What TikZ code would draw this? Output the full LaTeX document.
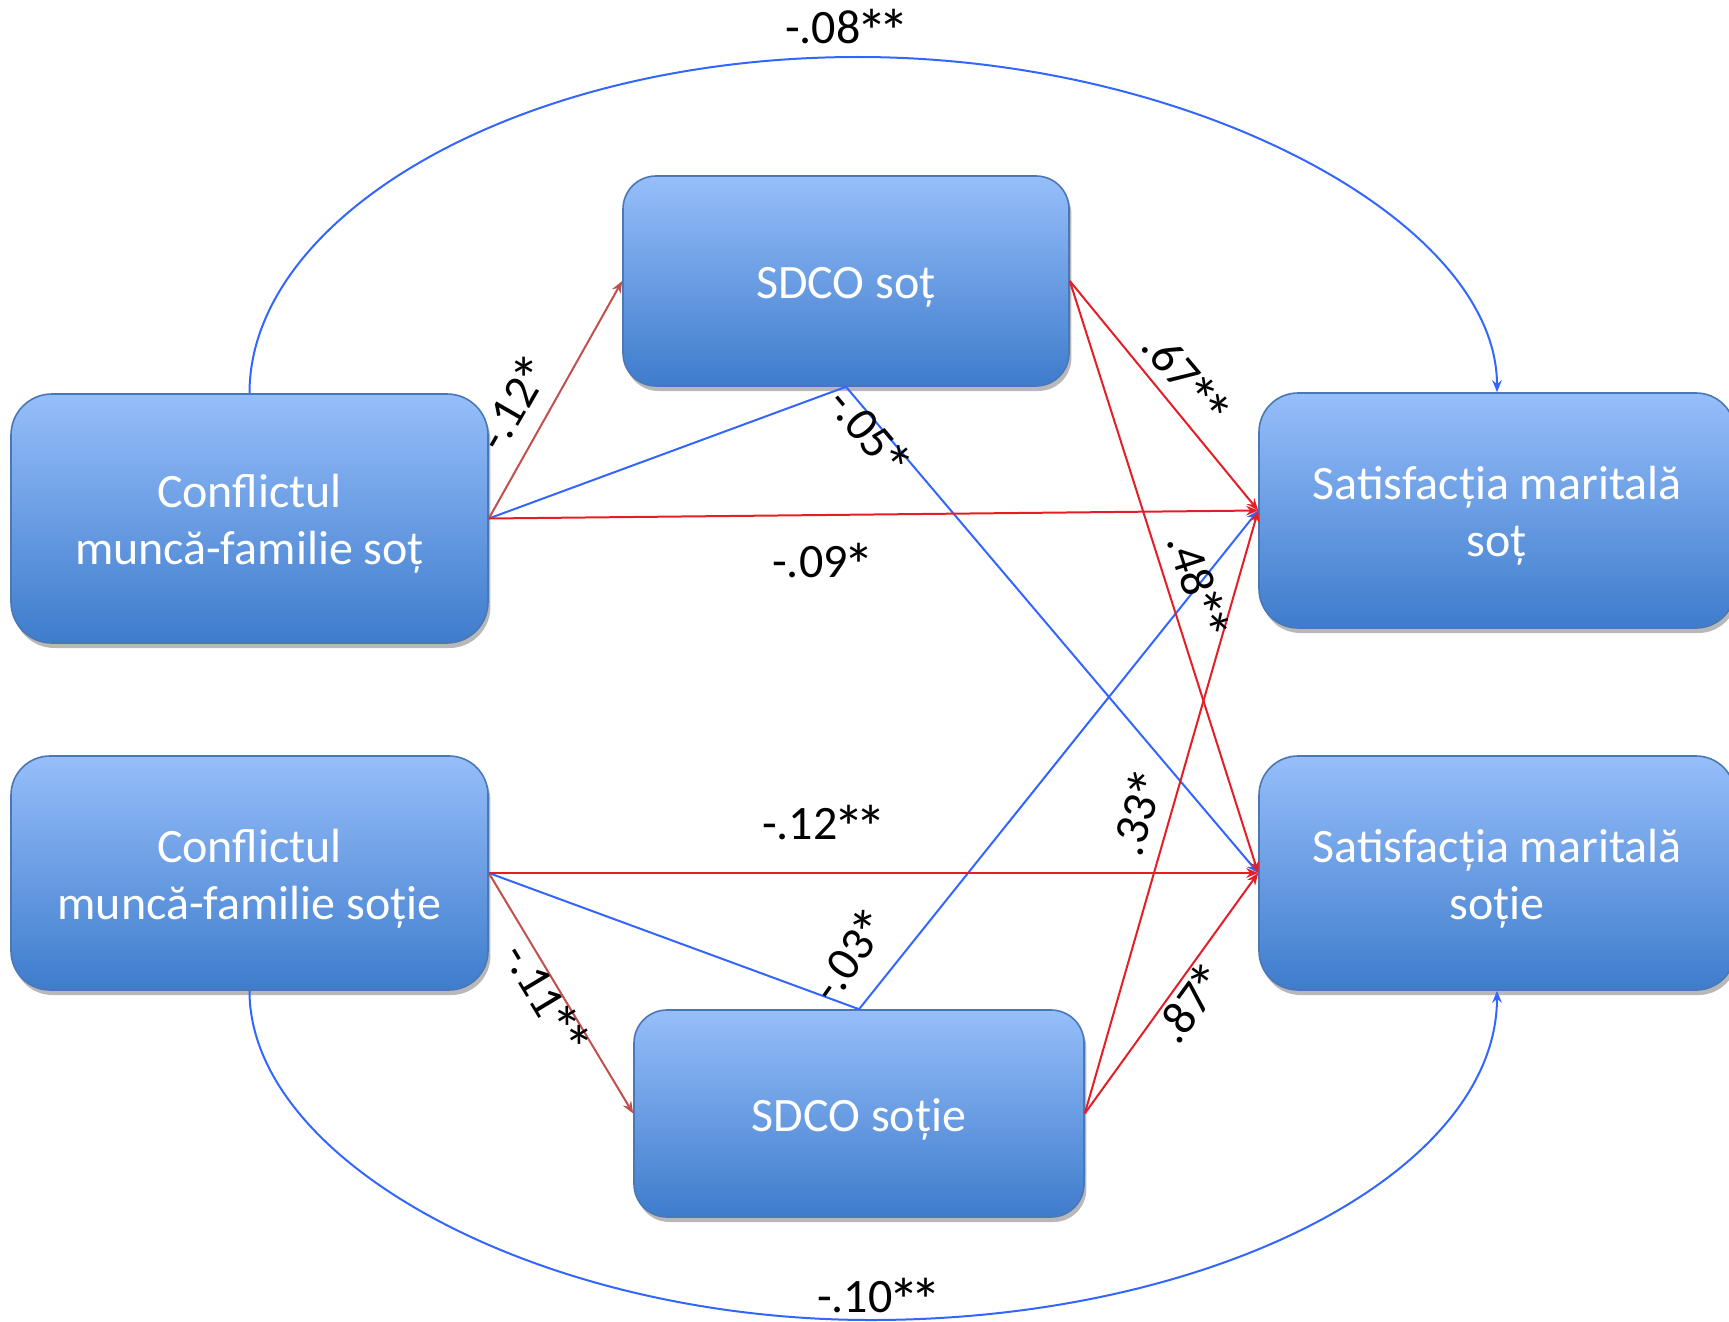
\documentclass[tikz,border=0pt]{standalone}
\usepackage{fontspec}
\usepackage{graphicx}
\setmainfont{Carlito}
\usetikzlibrary{arrows.meta,shadows}

\definecolor{boxtop}{RGB}{150,190,250}
\definecolor{boxbot}{RGB}{62,124,204}
\definecolor{boxline}{RGB}{74,120,182}
\definecolor{pathred}{RGB}{228,30,38}
\definecolor{darkred}{RGB}{192,80,77}
\definecolor{pathblue}{RGB}{51,102,255}

% a fuller, tightly set asterisk for the significance marks
\newcommand{\sig}{\makebox[0.46em]{\raisebox{-0.2em}{\scalebox{1.3}{*}}}}
% pushes a box caption slightly below the geometric centre
\newcommand{\lowstrut}{\rule{0pt}{22pt}}

\tikzset{
  varbox/.style={draw=boxline, line width=0.8pt, top color=boxtop, bottom color=boxbot,
    text=white, align=center, inner sep=0pt,
    font=\fontsize{24}{28.5}\selectfont,
    drop shadow={shadow xshift=1.2pt, shadow yshift=-2.5pt, opacity=0.28, fill=black}},
  redarrow/.style={draw=pathred, line width=1pt, -{Stealth[length=6pt,width=4.8pt,inset=2pt]}},
  dredarrow/.style={draw=darkred, line width=1pt, -{Stealth[length=6pt,width=4.8pt,inset=2pt]}},
  bluearrow/.style={draw=pathblue, line width=1pt, -{Stealth[length=6pt,width=4.8pt,inset=2pt]}},
  coef/.style={font=\fontsize{24}{28}\selectfont, inner sep=0pt, text=black}
}

\begin{document}
\begin{tikzpicture}[x=0.5pt,y=-0.5pt]
\useasboundingbox (0,0) rectangle (1729,1322);

% variables
\node[varbox, rounded corners=20.5pt, minimum width=238.5pt, minimum height=124.5pt]
  (cmfs) at (249.5,518.5) {\lowstrut Conflictul\\muncă-familie soț};
\node[varbox, rounded corners=19.5pt, minimum width=238.5pt, minimum height=117pt]
  (cmfw) at (249.5,873) {\lowstrut Conflictul\\muncă-familie soție};
\node[varbox, rounded corners=16.5pt, minimum width=223pt, minimum height=105pt]
  (sdcos) at (846,281) {\lowstrut SDCO soț};
\node[varbox, rounded corners=16.5pt, minimum width=225pt, minimum height=103.5pt]
  (sdcow) at (859,1113.5) {\lowstrut SDCO soție};
\node[varbox, rounded corners=19.5pt, minimum width=238pt, minimum height=117.5pt]
  (sms) at (1497,510.5) {\lowstrut Satisfacția maritală\\soț};
\node[varbox, rounded corners=19.5pt, minimum width=238pt, minimum height=117pt]
  (smw) at (1497,873) {\lowstrut Satisfacția maritală\\soție};

% outer curved paths
\coordinate (topc) at (858,57);
\coordinate (botc) at (871,1320);
\draw[bluearrow] (cmfs.north) .. controls (249.5,215) and (520,57) .. (topc)
  .. controls (1190,57) and (1497,220) .. (sms.north);
\draw[bluearrow] (cmfw.south) .. controls (249.5,1162) and (540,1320) .. (botc)
  .. controls (1214,1320) and (1497,1172) .. (smw.south);

% mediated paths
\draw[bluearrow] (cmfs.east) -- (sdcos.south) -- (smw.west);
\draw[bluearrow] (cmfw.east) -- (sdcow.north) -- (sms.west);

% direct paths
\draw[dredarrow] (cmfs.east) -- (sdcos.west);
\draw[dredarrow] (cmfw.east) -- (sdcow.west);
\draw[redarrow] (cmfs.east) -- (sms.west);
\draw[redarrow] (cmfw.east) -- (smw.west);
\draw[redarrow] (sdcos.east) -- (sms.west);
\draw[redarrow] (sdcos.east) -- (smw.west);
\draw[redarrow] (sdcow.east) -- (sms.west);
\draw[redarrow] (sdcow.east) -- (smw.west);

% coefficients
\node[coef] (c08) at (845,31) {-.08\sig\sig};
\node[coef] (c10) at (877,1300) {-.10\sig\sig};
\node[coef, rotate=60] (c12a) at (516,406) {-.12\sig};
\node[coef, rotate=-50] (c05) at (866,434) {-.05\sig};
\node[coef] (c09) at (821,565) {-.09\sig};
\node[coef, rotate=-50] (c67) at (1183,380) {.67\sig\sig};
\node[coef, rotate=-72] (c48) at (1195,587) {.48\sig\sig};
\node[coef] (c12b) at (822,827) {-.12\sig\sig};
\node[coef, rotate=-59] (c11) at (543,1000) {-.11\sig\sig};
\node[coef, rotate=55] (c03) at (852,958) {-.03\sig};
\node[coef, rotate=74] (c33) at (1141,815) {.33\sig};
\node[coef, rotate=54] (c87) at (1193,1006) {.87\sig};
\end{tikzpicture}
\end{document}
